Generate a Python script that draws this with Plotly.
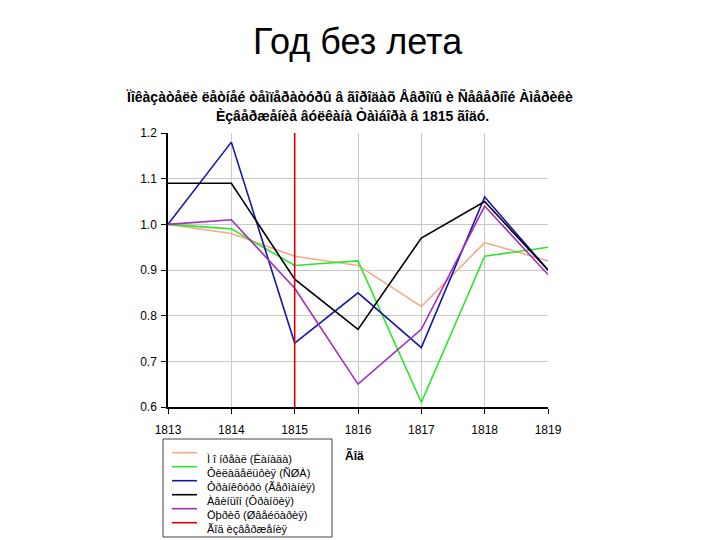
import plotly.graph_objects as go

years = [1813, 1814, 1815, 1816, 1817, 1818, 1819]
series_names = [
    "Ì î íðåàë (Êàíàäà)",
    "Ôèëàäåëüôèÿ (ÑØÀ)",
    "Ôðàíêôóðò (Ãåðìàíèÿ)",
    "Àâèíüîí (Ôðàíöèÿ)",
    "Öþðèõ (Øâåéöàðèÿ)",
]
montreal = [1.00, 0.98, 0.93, 0.91, 0.82, 0.96, 0.92]
philadelphia = [1.00, 0.99, 0.91, 0.92, 0.61, 0.93, 0.95]
frankfurt = [1.00, 1.18, 0.74, 0.85, 0.73, 1.06, 0.90]
avignon = [1.09, 1.09, 0.88, 0.77, 0.97, 1.05, 0.90]
zurich = [1.00, 1.01, 0.86, 0.65, 0.77, 1.04, 0.89]
eruption_name = "Ãîä èçâåðæåíèÿ"
eruption_year = 1815
y_ticks = [0.6, 0.7, 0.8, 0.9, 1.0, 1.1, 1.2]

series_values = [montreal, philadelphia, frankfurt, avignon, zurich]
colors = ["#f4ab8a", "#2fe62f", "#1616a8", "#000000", "#a42cbf"]
red = "#d60000"

fig = go.Figure()
for name, vals, c in zip(series_names, series_values, colors):
    fig.add_trace(go.Scatter(x=years, y=vals, mode="lines", name=name,
                             line=dict(color=c, width=1.6), showlegend=False))
fig.add_trace(go.Scatter(x=[eruption_year, eruption_year], y=[y_ticks[0], y_ticks[-1]],
                         mode="lines", name=eruption_name,
                         line=dict(color=red, width=1.6), showlegend=False))

L, R, T, B = 168, 172, 133, 133
W, H = 720, 540
pw, ph = W - L - R, H - T - B

def px(x):
    return (x - L) / pw

def py(y):
    return (H - B - y) / ph

font = "Liberation Sans, Arial, sans-serif"
annotations = [
    dict(text="Год без лета", x=0.5, xref="paper", y=py(42), yref="paper",
         xanchor="center", yanchor="middle", showarrow=False,
         font=dict(family=font, size=36, color="#000")),
    dict(text="<b>Ïîêàçàòåëè ëåòíåé òåìïåðàòóðû â ãîðîäàõ Åâðîïû è Ñåâåðíîé Àìåðèêè</b>",
         x=px(349), xref="paper", y=py(97), yref="paper",
         xanchor="center", yanchor="middle", showarrow=False,
         font=dict(family=font, size=14, color="#000")),
    dict(text="<b>Èçâåðæåíèå âóëêàíà Òàìáîðà â 1815 ãîäó.</b>",
         x=px(352), xref="paper", y=py(116), yref="paper",
         xanchor="center", yanchor="middle", showarrow=False,
         font=dict(family=font, size=14, color="#000")),
    dict(text="<b>Ãîä</b>", x=px(343), xref="paper", y=py(455), yref="paper",
         xanchor="left", yanchor="middle", showarrow=False,
         font=dict(family=font, size=12, color="#000")),
]
shapes = [
    dict(type="rect", xref="paper", yref="paper", x0=px(163), x1=px(332),
         y0=py(439), y1=py(537), line=dict(color="#444", width=1), fillcolor="white"),
]
legend_names = series_names + [eruption_name]
legend_colors = colors + [red]
for i, (n, c) in enumerate(zip(legend_names, legend_colors)):
    ly = 452.7 + i * 14
    shapes.append(dict(type="line", xref="paper", yref="paper", x0=px(172), x1=px(197),
                       y0=py(ly), y1=py(ly), line=dict(color=c, width=1.6)))
    annotations.append(dict(text=n, x=px(205), xref="paper", y=py(ly + 6), yref="paper",
                            xanchor="left", yanchor="middle", showarrow=False,
                            font=dict(family=font, size=11, color="#000")))

fig.update_layout(
    width=W, height=H,
    margin=dict(l=L, r=R, t=T, b=B),
    paper_bgcolor="white", plot_bgcolor="white",
    showlegend=False,
    annotations=annotations, shapes=shapes,
    xaxis=dict(range=[years[0], years[-1]], tickvals=years, ticktext=[str(y) for y in years],
               showgrid=True, gridcolor="#c8c8c8", gridwidth=1,
               showline=True, linecolor="#000", linewidth=1.5,
               ticks="outside", ticklen=5, tickcolor="#000", ticklabelstandoff=6,
               tickfont=dict(family=font, size=12, color="#000"), zeroline=False),
    yaxis=dict(range=[y_ticks[0], y_ticks[-1]], tickvals=y_ticks,
               ticktext=[f"{v:.1f}" for v in y_ticks],
               showgrid=True, gridcolor="#c8c8c8", gridwidth=1,
               showline=True, linecolor="#000", linewidth=1.5,
               ticks="outside", ticklen=5, tickcolor="#000", ticklabelstandoff=2,
               tickfont=dict(family=font, size=12, color="#000"), zeroline=False),
)

fig.write_html("out.html")
